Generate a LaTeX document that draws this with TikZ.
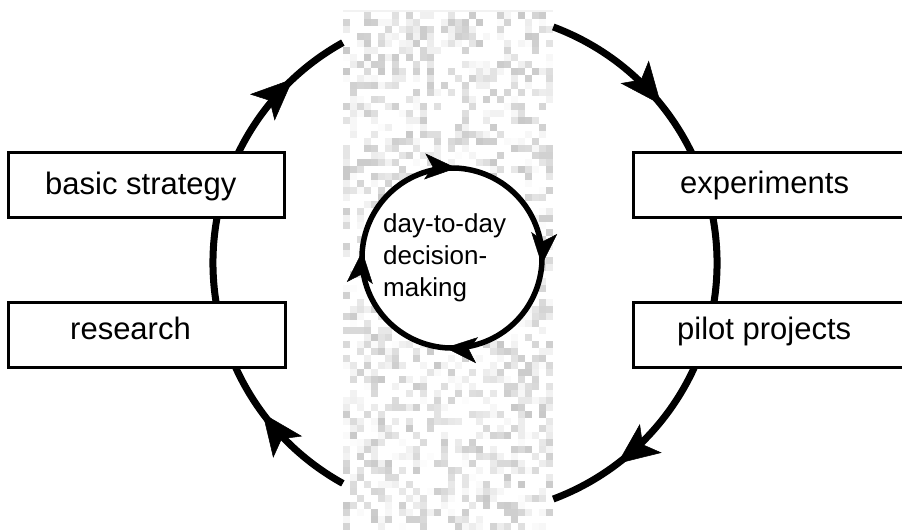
\documentclass[tikz,border=0pt]{standalone}
\usepackage{fontspec}
\setmainfont{Liberation Sans}
\usetikzlibrary{arrows.meta,decorations.markings}

\tikzset{
  outerloop/.style={line width=7pt,line cap=butt},
  innerloop/.style={line width=5.5pt},
  stagebox/.style={draw,line width=3pt,fill=white,rectangle,inner sep=0pt,
                   minimum height=65pt},
  stagetext/.style={inner sep=0pt,anchor=base west,
                    font=\fontsize{31}{37}\selectfont},
  hubtext/.style={inner sep=0pt,anchor=west,align=left,
                  font=\fontsize{26}{32}\selectfont},
  band/.style={fill=black!5}
}
\newcommand{\bigtip}{\arrow{Stealth[length=42pt,width=36pt,inset=10pt,line width=0.5pt]}}
\newcommand{\smalltip}{\arrow{Stealth[length=32pt,width=26pt,inset=8pt,line width=0.5pt]}}

\begin{document}
\begin{tikzpicture}[x=1pt,y=1pt]
  \clip (0,0) rectangle (902,530);

  % stippled vertical band behind the inner loop
  \begin{scope}
    \clip (343,0) rectangle (553,520);
    \fill[band] (343,0) rectangle (553,520);
    \pgfmathsetseed{4217}
    \foreach \i in {0,...,29}{
      \foreach \j in {0,...,73}{
        \pgfmathtruncatemacro{\shade}{max(0,rnd*44-22)}
        \fill[black!\shade] (343+\i*7,\j*7) rectangle ++(7,7);
      }
    }
  \end{scope}

  \coordinate (centre) at (465,267);
  \coordinate (hub) at (452,272);

  % outer cycle: left arc rises, right arc descends
  \draw[outerloop, postaction={decorate}, decoration={markings,
        mark=at position 0.2 with {\bigtip},
        mark=at position 0.885 with {\bigtip}}]
    (centre) ++(241:252) arc[start angle=241, end angle=119, radius=252];
  \draw[outerloop, postaction={decorate}, decoration={markings,
        mark=at position 0.22 with {\bigtip},
        mark=at position 0.88 with {\bigtip}}]
    (centre) ++(69.5:252) arc[start angle=69.5, end angle=-69.5, radius=252];

  % stage boxes
  \node[stagebox, minimum width=276pt] (basic) at (146,344.5) {};
  \node[stagebox, minimum width=277pt] (research) at (146.5,194.5) {};
  \node[stagebox, minimum width=330pt] (experiments) at (798,344.5) {};
  \node[stagebox, minimum width=330pt] (pilot) at (798,194.5) {};

  \node[stagetext] (basicT) at (45,335) {basic strategy};
  \node[stagetext] (researchT) at (70,190) {research};
  \node[stagetext] (experimentsT) at (680,336) {experiments};
  \node[stagetext] (pilotT) at (677,190) {pilot projects};

  % inner clockwise loop
  \fill[white] (hub) circle[radius=90];
  \draw[innerloop, postaction={decorate}, decoration={markings,
        mark=at position 0.036 with {\smalltip},
        mark=at position 0.29 with {\smalltip},
        mark=at position 0.54 with {\smalltip},
        mark=at position 0.79 with {\smalltip}}]
    (hub) ++(100:90) arc[start angle=100, end angle=-260, radius=90];

  \node[hubtext] (daily) at (383,272) {day-to-day\\decision-\\making};
\end{tikzpicture}
\end{document}
